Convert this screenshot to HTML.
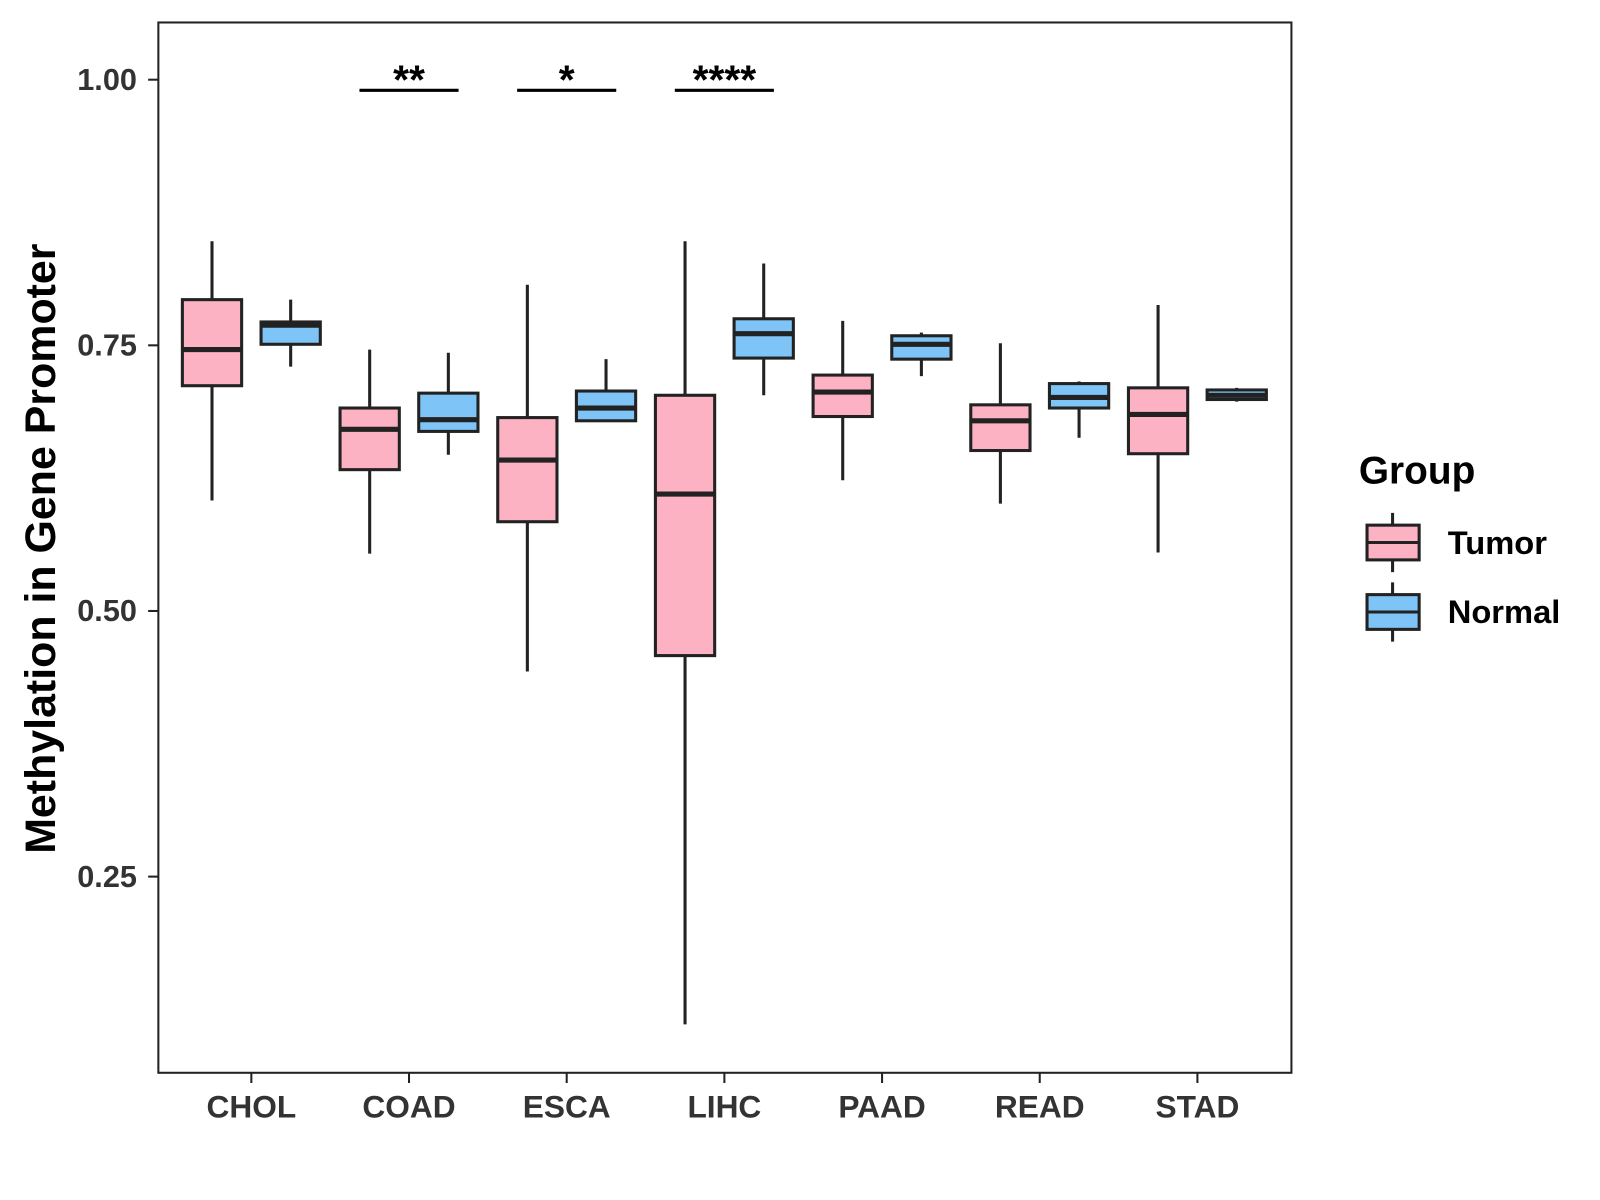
<!DOCTYPE html>
<html><head><meta charset="utf-8"><style>
html,body{margin:0;padding:0;background:#fff;}
svg{display:block;font-family:"Liberation Sans",Arial,sans-serif;}
</style></head><body>
<svg id="chart" width="1600" height="1200" viewBox="0 0 1600 1200">
<g transform="scale(1.0217)">
<rect x="155" y="22" width="1109" height="1028" fill="#fff" stroke="#222" stroke-width="2"/>
<g id="marks"></g>
<g id="axes"></g>
<text transform="translate(54,537) rotate(-90)" text-anchor="middle" font-size="42" font-weight="bold" fill="#000">Methylation in Gene Promoter</text>
<g>
<text x="1330" y="473" font-size="38" font-weight="bold" fill="#000">Group</text>
<g>
<line x1="1363" y1="502" x2="1363" y2="560" stroke="#222" stroke-width="3"/>
<rect x="1338" y="514" width="51" height="34" fill="#FDB2C3" stroke="#222" stroke-width="3"/>
<line x1="1338" y1="531" x2="1389" y2="531" stroke="#222" stroke-width="3"/>
<text x="1417" y="542" font-size="32" font-weight="bold" fill="#000">Tumor</text>
</g>
<g>
<line x1="1363" y1="570" x2="1363" y2="628" stroke="#222" stroke-width="3"/>
<rect x="1338" y="582" width="51" height="34" fill="#7EC4F7" stroke="#222" stroke-width="3"/>
<line x1="1338" y1="599" x2="1389" y2="599" stroke="#222" stroke-width="3"/>
<text x="1417" y="610" font-size="32" font-weight="bold" fill="#000">Normal</text>
</g>
</g>
</g>
</svg>
<script>
const categories=["CHOL","COAD","ESCA","LIHC","PAAD","READ","STAD"];
// [whiskerLow, Q1, median, Q3, whiskerHigh]
const tumorStats=[[0.604,0.712,0.746,0.793,0.848],[0.554,0.633,0.671,0.691,0.746],[0.443,0.584,0.642,0.682,0.807],[0.111,0.458,0.610,0.703,0.848],[0.623,0.683,0.706,0.722,0.773],[0.601,0.651,0.679,0.694,0.752],[0.555,0.648,0.685,0.710,0.788]];
const normalStats=[[0.730,0.751,0.769,0.772,0.793],[0.647,0.669,0.680,0.705,0.743],[0.679,0.679,0.691,0.707,0.737],[0.703,0.738,0.761,0.775,0.827],[0.721,0.737,0.751,0.759,0.762],[0.663,0.691,0.701,0.714,0.716],[0.697,0.699,0.703,0.708,0.710]];
const yTicks=[0.25,0.50,0.75,1.00];
const yTickLabels=["0.25","0.50","0.75","1.00"];
const sigCats=["COAD","ESCA","LIHC"];
const sigLabels=["**","*","****"];
const sigLevel=0.99;

const NS="http://www.w3.org/2000/svg";
const yScale=v=>78+(1-v)*1040;
const xScale=i=>246+i*154.33;
function mk(tag,attrs,parent){const e=document.createElementNS(NS,tag);for(const k in attrs)e.setAttribute(k,attrs[k]);parent.appendChild(e);return e;}
const marks=document.getElementById('marks'), axes=document.getElementById('axes');
function drawBox(cx,s,fill,name){
  const g=mk('g',{},marks);
  
  
  const hw=29;
  mk('line',{x1:cx,x2:cx,y1:yScale(s[4]),y2:yScale(s[0]),stroke:'#222','stroke-width':3},g);
  mk('rect',{x:cx-hw,y:yScale(s[3]),width:2*hw,height:Math.max(yScale(s[1])-yScale(s[3]),0.1),fill:fill,stroke:'#222','stroke-width':3},g);
  mk('line',{x1:cx-hw,x2:cx+hw,y1:yScale(s[2]),y2:yScale(s[2]),stroke:'#222','stroke-width':5},g);
}
categories.forEach((c,i)=>{
  drawBox(xScale(i)-38.5,tumorStats[i],'#FDB2C3','box-tumor-'+c.toLowerCase());
  drawBox(xScale(i)+38.5,normalStats[i],'#7EC4F7','box-normal-'+c.toLowerCase());
  mk('line',{x1:xScale(i),x2:xScale(i),y1:1050,y2:1060,stroke:'#222','stroke-width':2},axes);
  const t=mk('text',{x:xScale(i),y:1094,'text-anchor':'middle','font-size':31,'font-weight':'bold',fill:'#333'},axes);
  t.textContent=c;
  
  
});
yTicks.forEach((v,i)=>{
  mk('line',{x1:145,x2:155,y1:yScale(v),y2:yScale(v),stroke:'#222','stroke-width':2},axes);
  const t=mk('text',{x:134,y:yScale(v)+10,'text-anchor':'end','font-size':30,'font-weight':'bold',fill:'#333'},axes);
  t.textContent=yTickLabels[i];
  
  
});
sigCats.forEach((c,k)=>{
  const i=categories.indexOf(c);
  const g=mk('g',{},marks);
  
  
  mk('line',{x1:xScale(i)-48.5,x2:xScale(i)+48.5,y1:yScale(sigLevel),y2:yScale(sigLevel),stroke:'#000','stroke-width':3},g);
  const t=mk('text',{x:xScale(i),y:yScale(sigLevel)+3,'text-anchor':'middle','font-size':40,'font-weight':'bold',fill:'#000'},g);
  t.textContent=sigLabels[k];
});
</script>
</body></html>
